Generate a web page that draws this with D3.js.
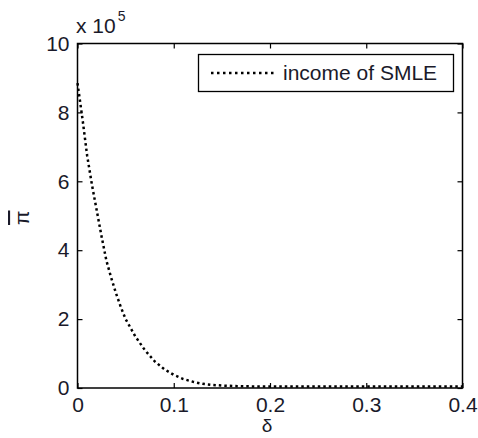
<!DOCTYPE html>
<html>
<head>
<meta charset="utf-8">
<script src="https://cdn.jsdelivr.net/npm/d3@7"></script>
<style>
  body { margin: 0; background: #fff; }
  svg text { font-family: "Liberation Sans", Arial, sans-serif; fill: #1a1a2a; }
</style>
</head>
<body>
<div id="chart"></div>
<script>
// δ vs mean income (×1e5)
const delta = [0, 0.005, 0.01, 0.015, 0.02, 0.025, 0.03, 0.035, 0.04, 0.045, 0.05,
  0.06, 0.07, 0.08, 0.09, 0.1, 0.11, 0.12, 0.13, 0.14, 0.15, 0.17, 0.2, 0.25, 0.3, 0.35, 0.4];
const income = [8.85, 7.85, 6.75, 5.9, 5.15, 4.4, 3.7, 3.2, 2.75, 2.35, 2.0,
  1.5, 1.1, 0.78, 0.55, 0.38, 0.26, 0.18, 0.12, 0.09, 0.07, 0.05, 0.04, 0.04, 0.04, 0.04, 0.04];
const xTicks = [0, 0.1, 0.2, 0.3, 0.4];
const yTicks = [0, 2, 4, 6, 8, 10];
const seriesName = "income of SMLE";

const W = 478, H = 438;
const m = { left: 77.5, right: 15.5, top: 43.5, bottom: 50 };
const x = d3.scaleLinear([0, 0.4], [m.left, W - m.right]);
const y = d3.scaleLinear([0, 10], [H - m.bottom, m.top]);

const svg = d3.select("#chart").append("svg")
  .attr("width", W).attr("height", H);

const fs = 21, tk = 5;

// curve
const line = d3.line().x((d, i) => x(delta[i])).y((d) => y(d));
svg.append("path").datum(income)
  .attr("d", line)
  .attr("fill", "none").attr("stroke", "#000")
  .attr("stroke-width", 2.5).attr("stroke-dasharray", "2.5,3");

// axes (inward ticks, mirrored on top/right)
const axB = svg.append("g").attr("transform", `translate(0,${y(0)})`)
  .call(d3.axisBottom(x).tickValues(xTicks).tickSizeInner(-tk).tickSizeOuter(0).tickPadding(9)
    .tickFormat((d) => d === 0 ? "0" : d3.format(".1f")(d)));
const axT = svg.append("g").attr("transform", `translate(0,${y(10)})`)
  .call(d3.axisTop(x).tickValues(xTicks).tickSizeInner(-tk).tickSizeOuter(0).tickFormat(""));
const axL = svg.append("g").attr("transform", `translate(${x(0)},0)`)
  .call(d3.axisLeft(y).tickValues(yTicks).tickSizeInner(-tk).tickSizeOuter(0).tickPadding(8));
const axR = svg.append("g").attr("transform", `translate(${x(0.4)},0)`)
  .call(d3.axisRight(y).tickValues(yTicks).tickSizeInner(-tk).tickSizeOuter(0).tickFormat(""));
[axB, axT, axL, axR].forEach((g) => {
  g.select(".domain").remove();
  g.selectAll("line").attr("stroke", "#000").attr("stroke-width", 1.2);
  g.selectAll("text").attr("font-size", fs).attr("font-family", null);
});
axB.selectAll("text").attr("dy", "0.71em");

svg.append("rect")
  .attr("x", x(0)).attr("y", y(10))
  .attr("width", x(0.4) - x(0)).attr("height", y(0) - y(10))
  .attr("fill", "none").attr("stroke", "#000").attr("stroke-width", 1.5);

// exponent
const ex = svg.append("text").attr("x", 76).attr("y", 33).attr("font-size", fs);
ex.append("tspan").text("x 10");
ex.append("tspan").attr("font-size", 14).attr("dx", 2).attr("dy", -12).text("5");

// axis labels
svg.append("text").attr("x", (x(0) + x(0.4)) / 2 - 3).attr("y", 432)
  .attr("text-anchor", "middle").attr("font-size", 19).text("δ");
svg.append("text")
  .attr("transform", `translate(29,${(y(0) + y(10)) / 2 + 2}) rotate(-90)`)
  .attr("text-anchor", "middle").attr("font-size", fs)
  .style("text-decoration", "overline").text("π");

// legend
const lg = svg.append("g");
lg.append("rect").attr("x", 198.5).attr("y", 54.5).attr("width", 255).attr("height", 37)
  .attr("fill", "#fff").attr("stroke", "#000").attr("stroke-width", 1.3);
lg.append("line").attr("x1", 211).attr("x2", 276).attr("y1", 73).attr("y2", 73)
  .attr("stroke", "#000").attr("stroke-width", 2.5).attr("stroke-dasharray", "2.5,3.5");
lg.append("text").attr("x", 283).attr("y", 80).attr("font-size", fs).text(seriesName);
</script>
</body>
</html>
